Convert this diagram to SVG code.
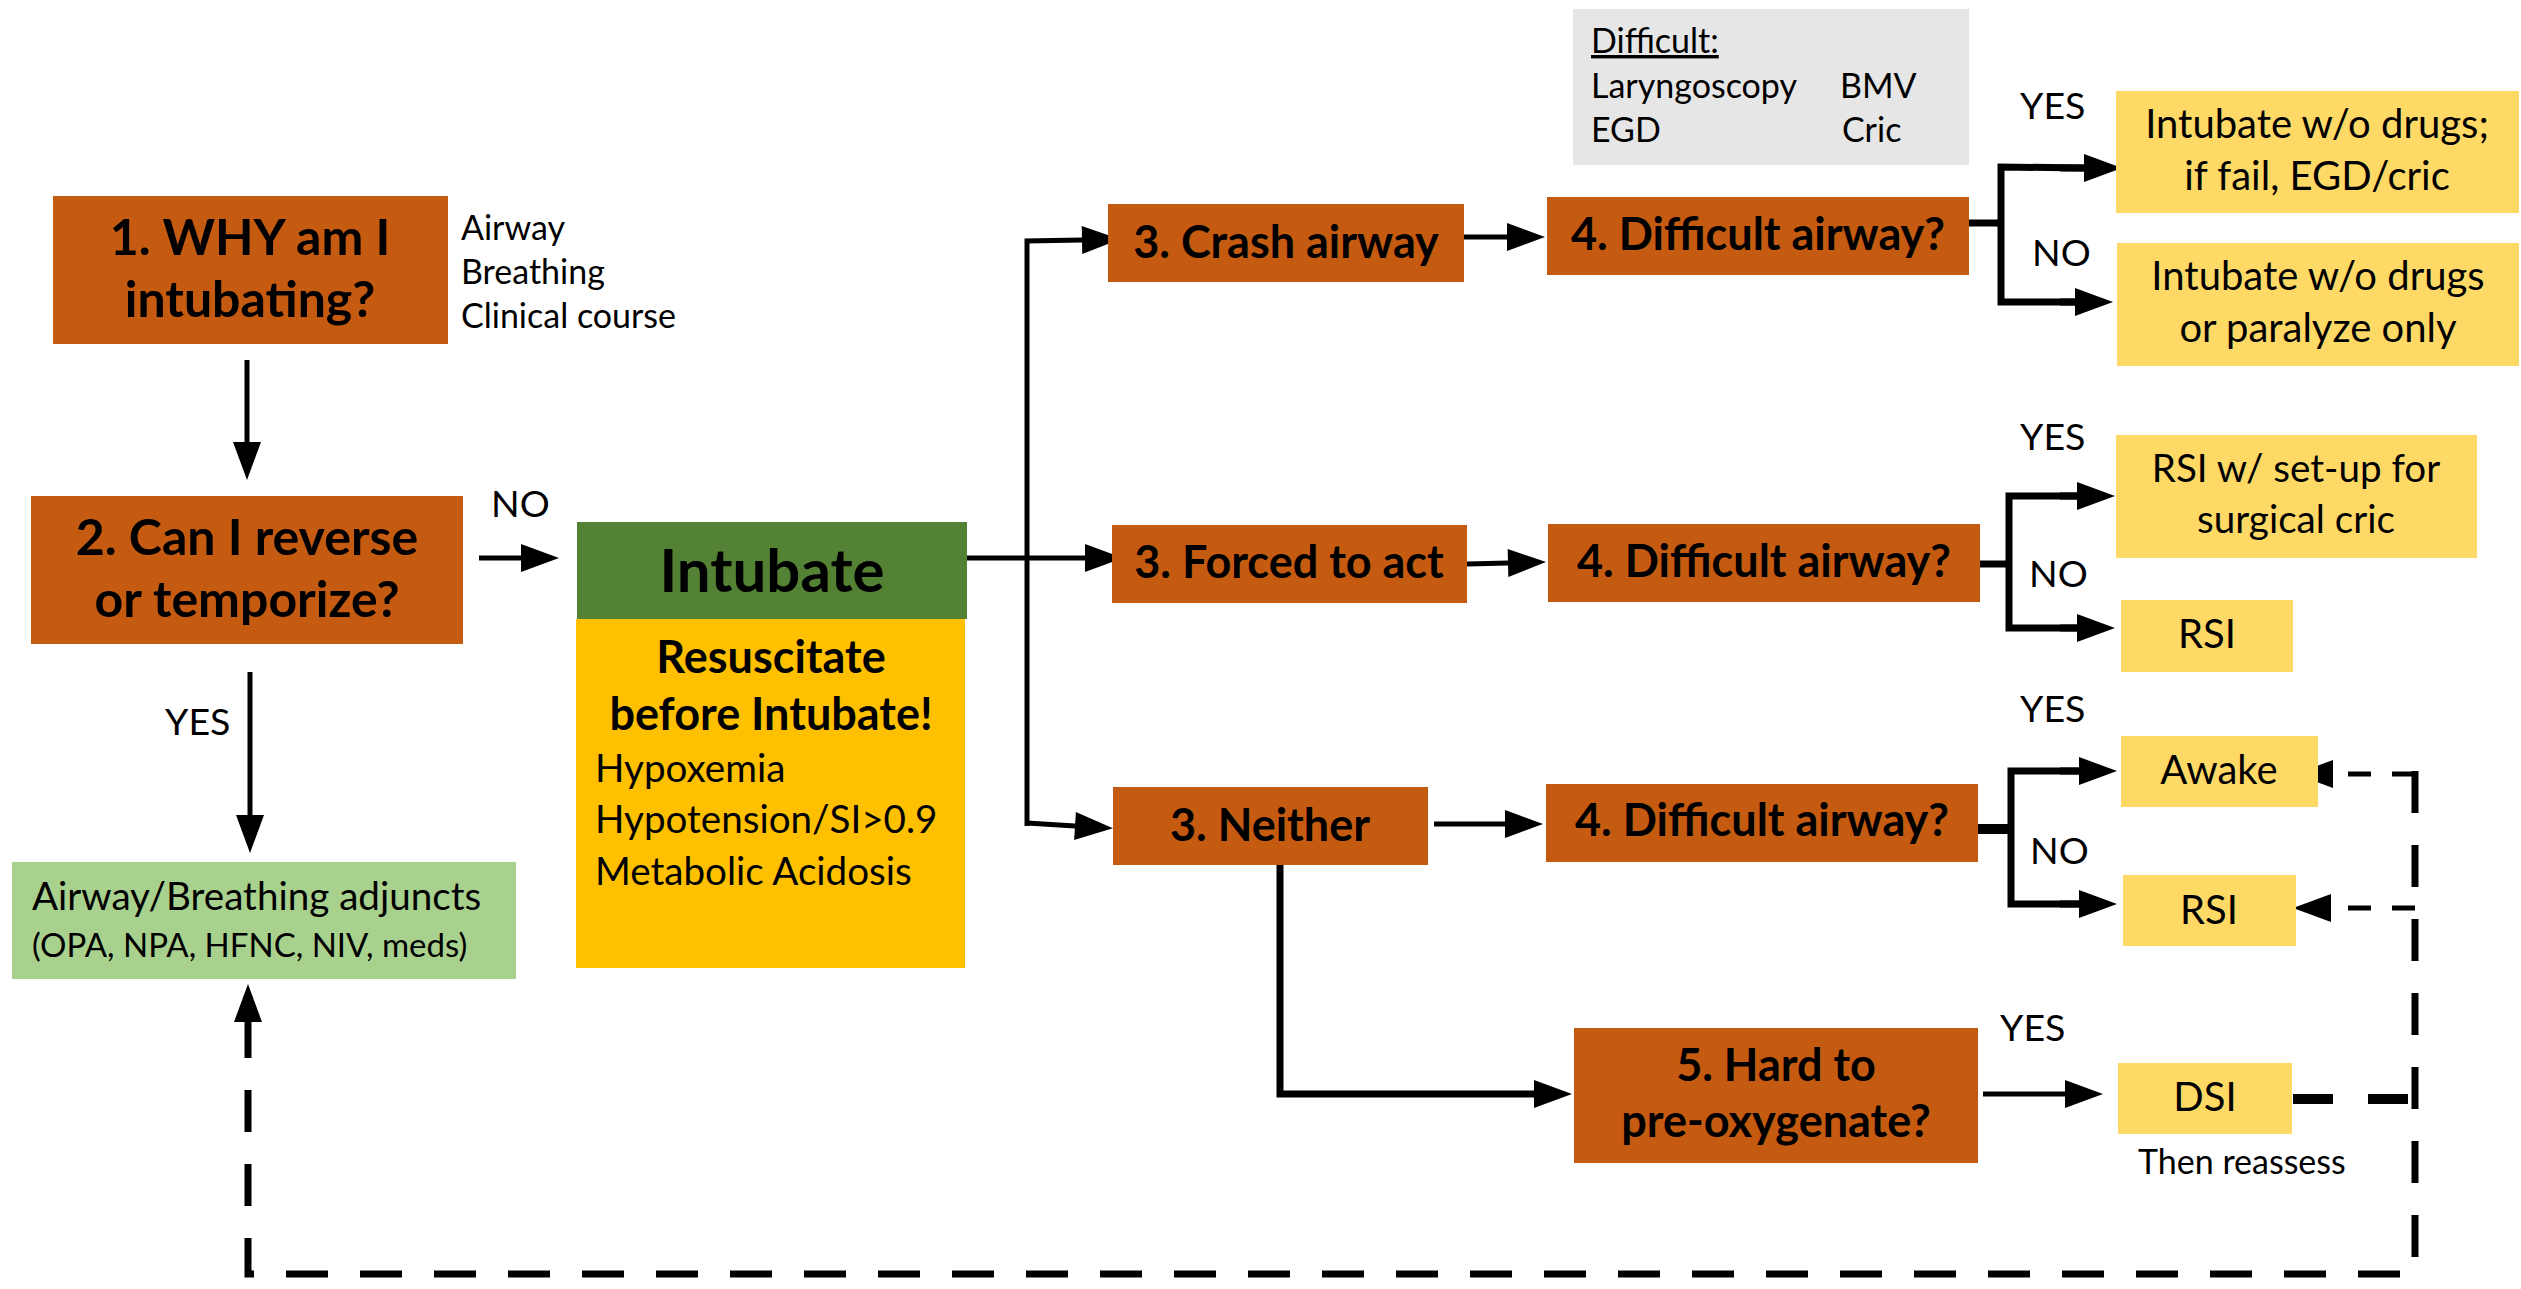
<svg xmlns="http://www.w3.org/2000/svg" width="2521" height="1289" viewBox="0 0 2521 1289">
<defs>
<style>
.t{font-family:Lato,"Liberation Sans",sans-serif;fill:#000}
.h{font-weight:bold;font-size:45px;text-anchor:middle}
.hb{font-size:50px}
.r40{font-size:40px}
.r38{font-size:38.6px}
.r35{font-size:34px}
.r33{font-size:33px}
.lbl{font-size:37.5px}
.c{text-anchor:middle}
.or{fill:#C55A11}
.ly{fill:#FFD966}
.ln{fill:none;stroke:#000;stroke-width:5}
.br{fill:none;stroke:#000;stroke-width:7}
.ds{fill:none;stroke:#000;stroke-width:7;stroke-dasharray:42 32}
.dsh{fill:none;stroke:#000;stroke-width:5;stroke-dasharray:23 21}
</style>
<marker id="ah" markerUnits="userSpaceOnUse" markerWidth="38" markerHeight="28" refX="0" refY="14" orient="auto" overflow="visible">
<path d="M0,0 L38,14 L0,28 z" fill="#000"/>
</marker>
</defs>
<rect width="2521" height="1289" fill="#fff"/>

<g id="connectors">
<line class="ln" x1="247" y1="360" x2="247" y2="442" marker-end="url(#ah)"/>
<line class="ln" x1="479" y1="558" x2="521" y2="558" marker-end="url(#ah)"/>
<line class="ln" x1="250" y1="672" x2="250" y2="815" marker-end="url(#ah)"/>
<line class="ln" x1="967" y1="558" x2="1085" y2="558" marker-end="url(#ah)"/>
<polyline class="ln" points="1027,826 1027,241 1082,240" marker-end="url(#ah)"/>
<line class="ln" x1="1027" y1="823" x2="1075" y2="826" marker-end="url(#ah)"/>
<line class="ln" x1="1464" y1="237" x2="1507" y2="237" marker-end="url(#ah)"/>
<line class="ln" x1="1467" y1="564" x2="1508" y2="563" marker-end="url(#ah)"/>
<line class="ln" x1="1434" y1="824" x2="1505" y2="824" marker-end="url(#ah)"/>
<polyline class="br" points="1280,865 1280,1094 1534,1094" marker-end="url(#ah)"/>
<line class="ln" x1="1983" y1="1094" x2="2065" y2="1094" marker-end="url(#ah)"/>
<line class="br" x1="1969" y1="223" x2="2001" y2="223"/>
<polyline class="br" points="2084,168 2001,167 2001,302 2075,302" />
<line class="br" x1="2060" y1="168" x2="2084" y2="168" marker-end="url(#ah)"/>
<line class="br" x1="2060" y1="302" x2="2075" y2="302" marker-end="url(#ah)"/>
<line class="br" x1="1980" y1="564" x2="2009" y2="564"/>
<polyline class="br" points="2077,496 2009,496 2009,628 2077,628"/>
<line class="br" x1="2060" y1="496" x2="2077" y2="496" marker-end="url(#ah)"/>
<line class="br" x1="2060" y1="628" x2="2077" y2="628" marker-end="url(#ah)"/>
<line class="br" x1="1978" y1="829" x2="2011" y2="829" style="stroke-width:10"/>
<polyline class="br" points="2079,771 2011,771 2011,904 2079,904"/>
<line class="br" x1="2060" y1="771" x2="2079" y2="771" marker-end="url(#ah)"/>
<line class="br" x1="2060" y1="904" x2="2079" y2="904" marker-end="url(#ah)"/>
<line class="dsh" x1="2415" y1="774" x2="2333" y2="774" marker-end="url(#ah)"/>
<line class="dsh" x1="2415" y1="908" x2="2331" y2="908" marker-end="url(#ah)"/>
<line x1="2293" y1="1099" x2="2415" y2="1099" fill="none" stroke="#000" stroke-width="10" stroke-dasharray="40 35"/>
<polyline class="ds" points="2415,771 2415,1274 248,1274 248,1022"/>
<line class="ln" x1="248" y1="1030" x2="248" y2="1022" marker-end="url(#ah)"/>
</g>

<g id="n1"><rect class="or" x="53" y="196" width="395" height="148"/>
<text class="t h hb" x="250" y="255">1. WHY am I</text><text class="t h hb" x="250" y="317">intubating?</text></g>
<g id="n1note"><text class="t r35" x="461" y="240">Airway</text><text class="t r35" x="461" y="284">Breathing</text><text class="t r35" x="461" y="328">Clinical course</text></g>
<g id="n2"><rect class="or" x="31" y="496" width="432" height="148"/>
<text class="t h hb" x="247" y="555">2. Can I reverse</text><text class="t h hb" x="247" y="617">or temporize?</text></g>
<g id="nadj"><rect fill="#A9D18E" x="12" y="862" width="504" height="117"/>
<text class="t r38" x="32" y="910">Airway/Breathing adjuncts</text><text class="t r33" x="32" y="957">(OPA, NPA, HFNC, NIV, meds)</text></g>
<g id="nint"><rect fill="#548235" x="577" y="522" width="390" height="97"/>
<text class="t h" x="772" y="592" style="font-size:60px">Intubate</text></g>
<g id="nres"><rect fill="#FFC000" x="576" y="619" width="389" height="349"/>
<text class="t h" x="771" y="673">Resuscitate</text><text class="t h" x="771" y="730">before Intubate!</text>
<text class="t r38" x="595" y="782">Hypoxemia</text><text class="t r38" x="595" y="833">Hypotension/SI&gt;0.9</text><text class="t r38" x="595" y="885">Metabolic Acidosis</text></g>
<g id="n3a"><rect class="or" x="1108" y="204" width="356" height="78"/><text class="t h" x="1286" y="258">3. Crash airway</text></g>
<g id="n3b"><rect class="or" x="1112" y="525" width="355" height="78"/><text class="t h" x="1289" y="578">3. Forced to act</text></g>
<g id="n3c"><rect class="or" x="1113" y="787" width="315" height="78"/><text class="t h" x="1270" y="841">3. Neither</text></g>
<g id="n4a"><rect class="or" x="1547" y="197" width="422" height="78"/><text class="t h" x="1758" y="250">4. Difficult airway?</text></g>
<g id="n4b"><rect class="or" x="1548" y="524" width="432" height="78"/><text class="t h" x="1764" y="577">4. Difficult airway?</text></g>
<g id="n4c"><rect class="or" x="1546" y="784" width="432" height="78"/><text class="t h" x="1762" y="836">4. Difficult airway?</text></g>
<g id="n5"><rect class="or" x="1574" y="1028" width="404" height="135"/><text class="t h" x="1776" y="1081">5. Hard to</text><text class="t h" x="1776" y="1137">pre-oxygenate?</text></g>
<g id="ndiff"><rect fill="#E7E6E6" x="1573" y="9" width="396" height="156"/>
<text class="t r35" x="1591" y="53" text-decoration="underline">Difficult:</text>
<text class="t r35" x="1591" y="98">Laryngoscopy</text><text class="t r35" x="1840" y="98">BMV</text>
<text class="t r35" x="1591" y="142">EGD</text><text class="t r35" x="1842" y="142">Cric</text></g>
<g id="r1"><rect class="ly" x="2116" y="91" width="403" height="122"/><text class="t r40 c" x="2317" y="138">Intubate w/o drugs;</text><text class="t r40 c" x="2317" y="190">if fail, EGD/cric</text></g>
<g id="r2"><rect class="ly" x="2117" y="243" width="402" height="123"/><text class="t r40 c" x="2318" y="290">Intubate w/o drugs</text><text class="t r40 c" x="2318" y="342">or paralyze only</text></g>
<g id="r3"><rect class="ly" x="2116" y="435" width="361" height="123"/><text class="t r38 c" x="2296" y="482">RSI w/ set-up for</text><text class="t r38 c" x="2296" y="533">surgical cric</text></g>
<g id="r4"><rect class="ly" x="2121" y="600" width="172" height="72"/><text class="t r40 c" x="2207" y="648">RSI</text></g>
<g id="r5"><rect class="ly" x="2121" y="736" width="197" height="71"/><text class="t r40 c" x="2219" y="784">Awake</text></g>
<g id="r6"><rect class="ly" x="2123" y="875" width="173" height="71"/><text class="t r40 c" x="2209" y="924">RSI</text></g>
<g id="r7"><rect class="ly" x="2118" y="1063" width="174" height="71"/><text class="t r40 c" x="2205" y="1111">DSI</text></g>
<g id="labels">
<text class="t r35" x="2138" y="1174">Then reassess</text>
<text class="t lbl" x="491" y="517">NO</text>
<text class="t lbl" x="165" y="735">YES</text>
<text class="t lbl" x="2020" y="119">YES</text>
<text class="t lbl" x="2032" y="266">NO</text>
<text class="t lbl" x="2020" y="450">YES</text>
<text class="t lbl" x="2029" y="587">NO</text>
<text class="t lbl" x="2020" y="722">YES</text>
<text class="t lbl" x="2030" y="864">NO</text>
<text class="t lbl" x="2000" y="1041">YES</text>
</g>
</svg>
